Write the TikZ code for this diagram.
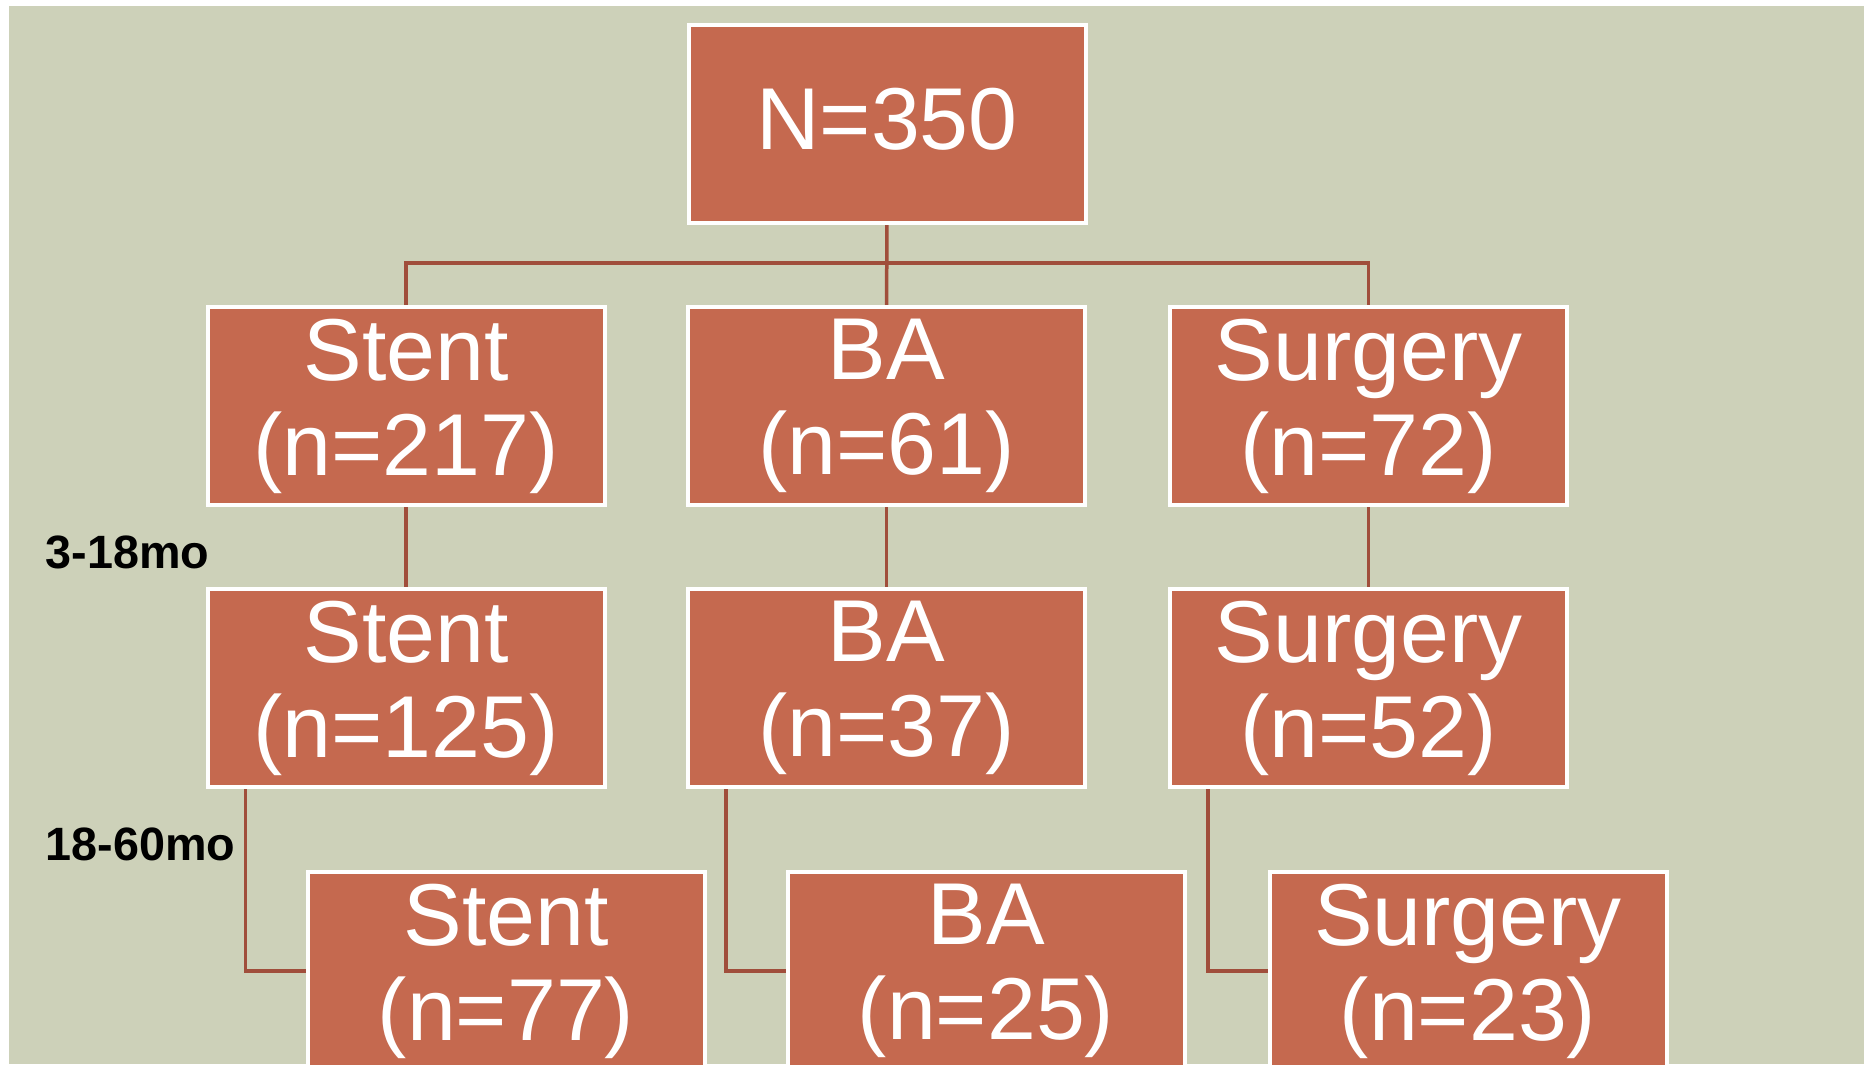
\documentclass[tikz,border=0pt]{standalone}
\usepackage{fontspec}
\setmainfont{Liberation Sans}
\usetikzlibrary{backgrounds}
\definecolor{boxred}{HTML}{C5694F}
\definecolor{linkred}{HTML}{A04E3B}
\definecolor{sage}{HTML}{CDD1B9}

\begin{document}
\begin{tikzpicture}[
    box/.style={draw=white, line width=0.04cm, fill=boxred, text=white,
        minimum width=3.97cm, minimum height=1.98cm, inner sep=0pt,
        align=center, font=\fontsize{25}{27}\selectfont},
    twoline/.style={box, execute at begin node={\rule{0pt}{0.76cm}}},
    link/.style={draw=linkred, line width=0.035cm},
    period/.style={anchor=base west, inner sep=0pt,
        font=\bfseries\fontsize{13.3}{15}\selectfont}
]
    \path[use as bounding box, clip] (0,0) rectangle (18.64,-10.64);

    \node[box, execute at end node={\rule[-0.1cm]{0pt}{0.1cm}}] (n350) at (8.87,-1.24) {N=350};

    \node[twoline] (stentA) at (4.06,-4.06) {Stent\\(n=217)};
    \node[twoline] (baA) at (8.865,-4.06) {BA\\(n=61)};
    \node[twoline] (surgA) at (13.685,-4.06) {Surgery\\(n=72)};

    \node[twoline] (stentB) at (4.06,-6.88) {Stent\\(n=125)};
    \node[twoline] (baB) at (8.865,-6.88) {BA\\(n=37)};
    \node[twoline] (surgB) at (13.685,-6.88) {Surgery\\(n=52)};

    \node[twoline] (stentC) at (5.06,-9.71) {Stent\\(n=77)};
    \node[twoline] (baC) at (9.86,-9.71) {BA\\(n=25)};
    \node[twoline] (surgC) at (14.68,-9.71) {Surgery\\(n=23)};

    \node[period] (early) at (0.45,-5.68) {3-18mo};
    \node[period] (late) at (0.45,-8.60) {18-60mo};

    \begin{scope}[on background layer]
        \fill[white] (0,0) rectangle (18.64,-10.64);
        \fill[sage] (0.09,-0.06) rectangle (18.64,-10.64);
        \draw[link] (n350) -- (baA);
        \draw[link] (stentA.north) -- ++(0,0.42) -| (surgA.north);
        \draw[link] (stentA) -- (stentB);
        \draw[link] (baA) -- (baB);
        \draw[link] (surgA) -- (surgB);
        \draw[link] ([xshift=0.4cm]stentB.south west) |- (stentC.west);
        \draw[link] ([xshift=0.4cm]baB.south west) |- (baC.west);
        \draw[link] ([xshift=0.4cm]surgB.south west) |- (surgC.west);
    \end{scope}
\end{tikzpicture}
\end{document}
